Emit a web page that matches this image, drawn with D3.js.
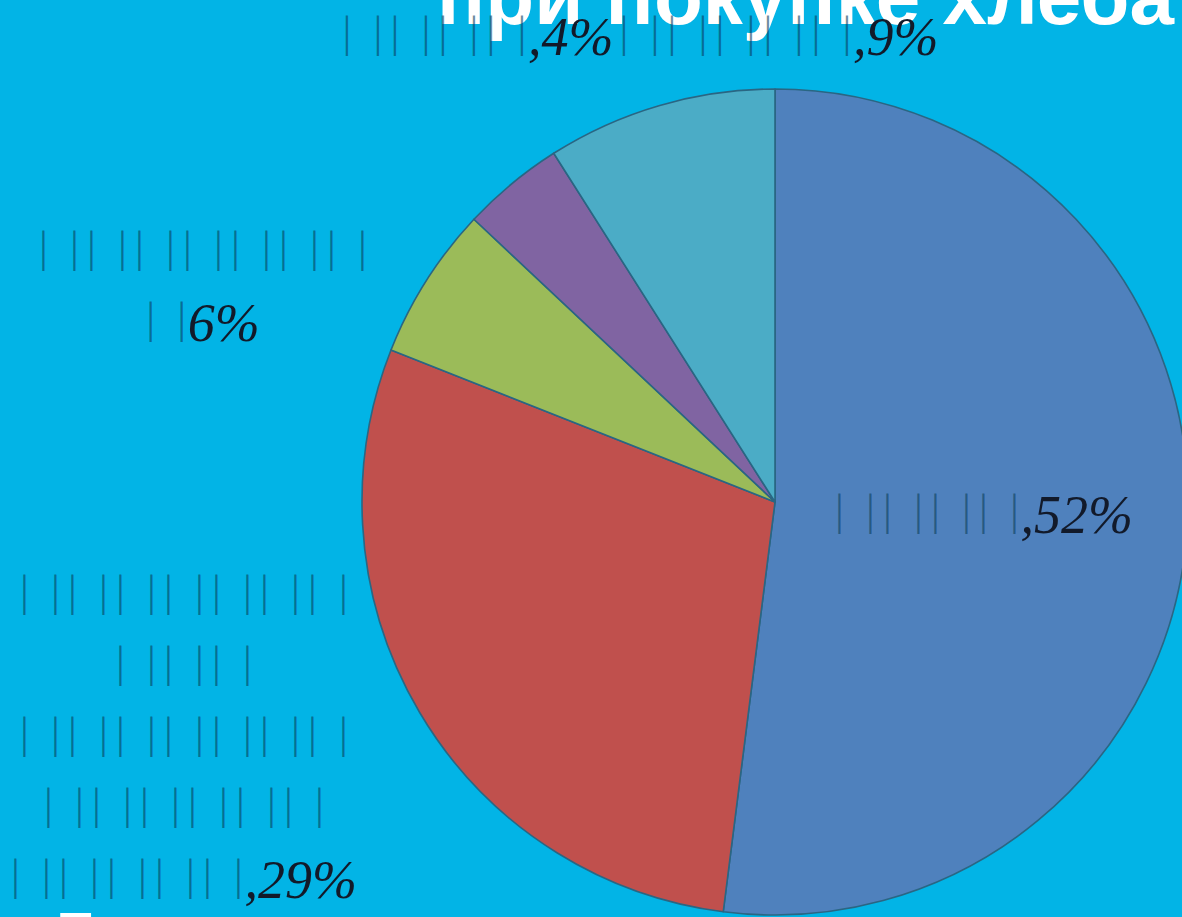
<!DOCTYPE html>
<html><head><meta charset="utf-8">
<script src="https://cdn.jsdelivr.net/npm/d3@7"></script>
<style>html,body{margin:0;padding:0;background:#02b4e6;overflow:hidden}</style>
</head><body>
<svg id="chart" width="1182" height="917"></svg>
<script>
// ---- data ----
const title = "при покупке хлеба";
const footerText = "Г";
// category names are unreadable in the source (rendered as missing-glyph boxes "□")
const categories = [
  "□□□□",
  "□□□□□□□\n□□□\n□□□□□□□\n□□□□□□\n□□□□□",
  "□□□□□□□\n□",
  "□□□□",
  "□□□□□"
];
const values = [52, 29, 6, 4, 9];
const pctLabels = [",52%", ",29%", "6%", ",4%", ",9%"];
const colors = ["#4f81bd", "#c0504d", "#9bbb59", "#8064a2", "#4bacc6"];

// ---- layout ----
const W = 1182, H = 917;
const cx = 775, cy = 502, R = 413;
const labelPos = [[984, 533], [184, 614], [203, 270], [478, 55], [779, 55]];
const lineH = 71;

const svg = d3.select("#chart");
svg.append("rect").attr("width", W).attr("height", H).attr("fill", "#02b4e6");

const pie = d3.pie().sort(null).value(d => d);
const arc = d3.arc().innerRadius(0).outerRadius(R);
const arcs = pie(values);

svg.append("g").attr("transform", `translate(${cx},${cy})`)
  .selectAll("path").data(arcs).join("path")
  .attr("d", arc)
  .attr("fill", (d, i) => colors[i])
  .attr("stroke", "#2a6683")
  .attr("stroke-width", 1.6)
  .attr("stroke-linejoin", "round");

// title (cut off by top edge)
svg.append("text").attr("x", 437).attr("y", 24)
  .attr("font-family", "Liberation Sans, Arial, sans-serif")
  .attr("font-weight", "bold").attr("font-size", 80).attr("fill", "#fff")
  .text(title);

svg.append("text").attr("x", 56).attr("y", 958)
  .attr("font-family", "Liberation Sans, Arial, sans-serif")
  .attr("font-weight", "bold").attr("font-size", 64).attr("fill", "#fff")
  .text(footerText);

// labels
const barFS = 44, pctFS = 54;
const barFont = "Liberation Serif, Times New Roman, serif";
const probe = svg.append("text").attr("font-family", barFont).attr("font-size", barFS).text("|");
const barAdv = probe.node().getComputedTextLength();
probe.remove();

const boxW = 31, boxGap = 17, pctGap = 6, barLift = 8;

categories.forEach((cat, ci) => {
  const lines = cat.split("\n");
  const [lx, ly] = labelPos[ci];
  lines.forEach((ln, li) => {
    const t = svg.append("text")
      .attr("x", lx).attr("y", ly + li * lineH)
      .attr("text-anchor", "middle");
    let first = true;
    for (const ch of ln) {
      if (ch === "□") {
        t.append("tspan").attr("font-family", barFont).attr("font-size", barFS)
          .attr("fill", "#0a3f5c").attr("fill-opacity", 0.6)
          .attr("dy", first ? -barLift : 0)
          .attr("dx", first ? 0 : boxGap - barAdv).text("|");
        t.append("tspan").attr("font-family", barFont).attr("font-size", barFS)
          .attr("fill", "#0a3f5c").attr("fill-opacity", 0.6)
          .attr("dx", boxW - barAdv).text("|");
        first = false;
      }
    }
    if (li === lines.length - 1) {
      t.append("tspan").attr("font-family", barFont).attr("font-size", pctFS)
        .attr("font-style", "italic").attr("fill", "#121a2a")
        .attr("dy", first ? 0 : barLift)
        .attr("dx", first ? 0 : pctGap - barAdv / 2).text(pctLabels[ci]);
    }
  });
});
</script>
</body></html>
